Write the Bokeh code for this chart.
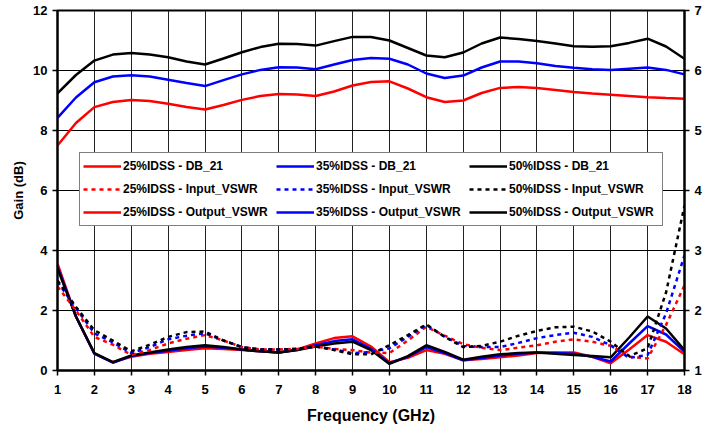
from bokeh.plotting import figure
from bokeh.models import Range1d, LinearAxis, Legend, LegendItem, FixedTicker
from bokeh.embed import file_html
from bokeh.resources import INLINE

# ---------------- data ----------------
freq_gain = [1, 1.5, 2, 2.5, 3, 3.5, 4, 4.5, 5, 5.5, 6, 6.5, 7, 7.5, 8, 8.5, 9, 9.5,
             10, 10.5, 11, 11.5, 12, 12.5, 13, 13.5, 14, 14.5, 15, 15.5, 16, 16.5, 17, 17.5, 18]
freq_vswr = freq_gain

gain_25 = [7.5, 8.25, 8.78, 8.95, 9.02, 8.98, 8.89, 8.78, 8.7, 8.85, 9.02, 9.15, 9.22, 9.2, 9.15, 9.3, 9.5, 9.62,
           9.64, 9.4, 9.11, 8.95, 9.0, 9.25, 9.42, 9.45, 9.42, 9.35, 9.28, 9.23, 9.19, 9.15, 9.11, 9.08, 9.06]
gain_35 = [8.42, 9.1, 9.61, 9.8, 9.84, 9.8, 9.69, 9.58, 9.48, 9.68, 9.87, 10.02, 10.11, 10.1, 10.04, 10.2, 10.35, 10.42,
           10.39, 10.2, 9.9, 9.75, 9.83, 10.1, 10.3, 10.3, 10.24, 10.15, 10.09, 10.04, 10.02, 10.06, 10.1, 10.02, 9.87]
gain_50 = [9.24, 9.85, 10.33, 10.53, 10.58, 10.53, 10.44, 10.3, 10.2, 10.4, 10.61, 10.78, 10.89, 10.88, 10.83, 10.98, 11.12, 11.12,
           11.0, 10.75, 10.5, 10.44, 10.6, 10.9, 11.1, 11.05, 10.98, 10.9, 10.81, 10.79, 10.81, 10.92, 11.06, 10.8, 10.39]

in_vswr_25 = [2.40, 2.00, 1.56, 1.43, 1.26, 1.34, 1.45, 1.53, 1.59, 1.50, 1.39, 1.35, 1.35, 1.36, 1.40, 1.36, 1.34, 1.30,
              1.29, 1.50, 1.73, 1.58, 1.44, 1.38, 1.34, 1.38, 1.42, 1.48, 1.52, 1.48, 1.41, 1.23, 1.20, 1.76, 2.42]
in_vswr_35 = [2.48, 2.04, 1.62, 1.47, 1.29, 1.39, 1.52, 1.58, 1.62, 1.50, 1.39, 1.35, 1.35, 1.36, 1.40, 1.35, 1.29, 1.31,
              1.37, 1.56, 1.76, 1.56, 1.41, 1.39, 1.39, 1.46, 1.54, 1.59, 1.63, 1.56, 1.42, 1.21, 1.26, 1.95, 2.92]
in_vswr_50 = [2.50, 2.06, 1.67, 1.50, 1.32, 1.43, 1.56, 1.64, 1.65, 1.50, 1.39, 1.35, 1.35, 1.36, 1.40, 1.34, 1.27, 1.27,
              1.42, 1.59, 1.77, 1.56, 1.39, 1.41, 1.48, 1.58, 1.66, 1.72, 1.73, 1.65, 1.48, 1.24, 1.37, 2.30, 3.75]

out_vswr_25 = [2.78, 1.90, 1.28, 1.14, 1.23, 1.28, 1.31, 1.34, 1.37, 1.36, 1.34, 1.32, 1.30, 1.35, 1.45, 1.54, 1.57, 1.40,
               1.14, 1.21, 1.34, 1.28, 1.17, 1.19, 1.22, 1.25, 1.29, 1.30, 1.30, 1.23, 1.12, 1.35, 1.59, 1.48, 1.27]
out_vswr_35 = [2.73, 1.90, 1.28, 1.13, 1.24, 1.29, 1.33, 1.37, 1.40, 1.38, 1.35, 1.32, 1.30, 1.34, 1.42, 1.49, 1.52, 1.36,
               1.12, 1.23, 1.39, 1.29, 1.17, 1.21, 1.25, 1.28, 1.30, 1.29, 1.28, 1.23, 1.15, 1.45, 1.74, 1.60, 1.31]
out_vswr_50 = [2.70, 1.90, 1.29, 1.14, 1.25, 1.30, 1.35, 1.39, 1.42, 1.39, 1.35, 1.32, 1.30, 1.34, 1.40, 1.45, 1.48, 1.34,
               1.11, 1.24, 1.42, 1.31, 1.18, 1.23, 1.27, 1.29, 1.30, 1.28, 1.26, 1.24, 1.22, 1.55, 1.90, 1.70, 1.34]

x_ticks = list(range(1, 19))
gain_ticks = [0, 2, 4, 6, 8, 10, 12]
vswr_ticks = [1, 2, 3, 4, 5, 6, 7]

labels = ["25%IDSS", "35%IDSS", "50%IDSS"]
colors = ["#FF0000", "#0000FF", "#000000"]

# ---------------- figure ----------------
FONT = "Liberation Sans"
p = figure(width=704, height=430, output_backend="svg", toolbar_location=None,
           x_range=Range1d(1, 18), y_range=Range1d(0, 12),
           min_border_left=57, min_border_right=18, min_border_top=10, min_border_bottom=60)
p.extra_y_ranges = {"vswr": Range1d(1, 7)}
p.background_fill_color = "white"
p.border_fill_color = "white"
p.outline_line_color = "black"
p.outline_line_width = 2

p.xaxis.ticker = FixedTicker(ticks=x_ticks)
p.yaxis.ticker = FixedTicker(ticks=gain_ticks)
p.xgrid.ticker = FixedTicker(ticks=x_ticks)
p.ygrid.ticker = FixedTicker(ticks=gain_ticks)
p.xgrid.grid_line_color = "#222222"
p.ygrid.grid_line_color = "#000000"
p.xgrid.grid_line_width = 1
p.ygrid.grid_line_width = 1

left_axis = p.left[0]
bottom_axis = p.below[0]
raxis = LinearAxis(y_range_name="vswr", ticker=FixedTicker(ticks=vswr_ticks))
p.add_layout(raxis, "right")

for ax in [bottom_axis, left_axis, raxis]:
    ax.major_label_text_font = FONT
    ax.major_label_text_font_style = "bold"
    ax.major_label_text_font_size = "13px"
    ax.major_label_text_color = "black"
    ax.axis_line_color = "black"
    ax.axis_line_width = 2
    ax.major_tick_line_color = "black"
    ax.major_tick_line_width = 1.5
    ax.major_tick_out = 5
    ax.major_tick_in = 0
    ax.minor_tick_line_color = None
    ax.major_label_standoff = 5

bottom_axis.major_label_standoff = 9
bottom_axis.axis_label = "Frequency (GHz)"
bottom_axis.axis_label_text_font = FONT
bottom_axis.axis_label_text_font_style = "bold"
bottom_axis.axis_label_text_font_size = "16px"
bottom_axis.axis_label_text_color = "black"
bottom_axis.axis_label_standoff = 10
left_axis.axis_label = "Gain (dB)"
left_axis.axis_label_text_font = FONT
left_axis.axis_label_text_font_style = "bold"
left_axis.axis_label_text_font_size = "13px"
left_axis.axis_label_text_color = "black"
left_axis.axis_label_standoff = 4

gain_series = [gain_25, gain_35, gain_50]
in_series = [in_vswr_25, in_vswr_35, in_vswr_50]
out_series = [out_vswr_25, out_vswr_35, out_vswr_50]

r_gain, r_in, r_out = [], [], []
for i in range(3):
    r_gain.append(p.line(freq_gain, gain_series[i], line_color=colors[i], line_width=2.5))
for i in range(3):
    r_out.append(p.line(freq_vswr, out_series[i], line_color=colors[i], line_width=2.5,
                        y_range_name="vswr"))
for i in range(3):
    r_in.append(p.line(freq_vswr, in_series[i], line_color=colors[i], line_width=2.5,
                       line_dash="4 4", y_range_name="vswr"))

items = []
for i in range(3):
    items.append(LegendItem(label=labels[i] + " - DB_21", renderers=[r_gain[i]]))
for i in range(3):
    items.append(LegendItem(label=labels[i] + " - Input_VSWR", renderers=[r_in[i]]))
for i in range(3):
    items.append(LegendItem(label=labels[i] + " - Output_VSWR", renderers=[r_out[i]]))

legend = Legend(items=items, location=(22, 144), orientation="horizontal", ncols=3,
                label_text_font=FONT, label_text_font_style="bold", label_text_font_size="12px",
                label_text_color="black",
                glyph_width=38, glyph_height=20, label_height=20, label_width=150,
                label_standoff=2, spacing=3, padding=3, margin=0,
                border_line_color="black", border_line_width=1,
                background_fill_color="white", background_fill_alpha=1.0)
p.add_layout(legend, "center")

open("out.html", "w").write(file_html(p, INLINE))
